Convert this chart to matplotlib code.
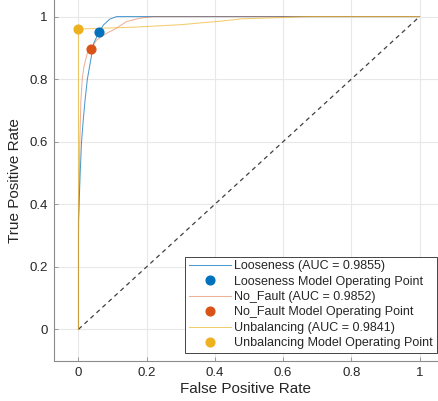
import matplotlib
matplotlib.use("Agg")
import matplotlib.pyplot as plt

plt.rcParams['font.family'] = ['Liberation Sans', 'DejaVu Sans']

# ROC curves
loose_fpr = [0, 0, 0.002, 0.005, 0.009, 0.014, 0.019, 0.026, 0.036, 0.045, 0.06, 0.073, 0.092, 0.112, 1.0]
loose_tpr = [0, 0.35, 0.41, 0.50, 0.60, 0.67, 0.73, 0.80, 0.862, 0.916, 0.95, 0.973, 0.992, 1.0, 1.0]

nofault_fpr = [0, 0, 0.002, 0.004, 0.007, 0.011, 0.016, 0.026, 0.036, 0.053, 0.083, 0.107, 0.141, 0.18, 0.22, 1.0]
nofault_tpr = [0, 0.30, 0.45, 0.60, 0.73, 0.80, 0.84, 0.883, 0.896, 0.925, 0.947, 0.96, 0.984, 0.995, 1.0, 1.0]

unbal_fpr = [0, 0, 0.05, 0.16, 0.30, 0.36, 0.415, 0.48, 0.60, 0.67, 1.0]
unbal_tpr = [0, 0.96, 0.962, 0.966, 0.974, 0.98, 0.985, 0.993, 0.997, 1.0, 1.0]

# operating points
op_fpr = [0.06, 0.036, 0.0]
op_tpr = [0.95, 0.896, 0.96]

labels = ['Looseness (AUC = 0.9855)', 'Looseness Model Operating Point',
          'No_Fault (AUC = 0.9852)', 'No_Fault Model Operating Point',
          'Unbalancing (AUC = 0.9841)', 'Unbalancing Model Operating Point']

ticks = [0, 0.2, 0.4, 0.6, 0.8, 1]
tick_labels = ['0', '0.2', '0.4', '0.6', '0.8', '1']

colors = ['#0072BD', '#D95319', '#EDB120']

fig = plt.figure(figsize=(4.38, 4.01), dpi=100)
ax = fig.add_axes([54 / 438, 40 / 401, 384 / 438, 361 / 401])

curves = [(loose_fpr, loose_tpr), (nofault_fpr, nofault_tpr), (unbal_fpr, unbal_tpr)]
alphas = [0.7, 0.45, 0.65]
handles = []
for i, (fx, ty) in enumerate(curves):
    ln, = ax.plot(fx, ty, color=colors[i], lw=0.75, alpha=alphas[i], zorder=3)
    mk, = ax.plot([op_fpr[i]], [op_tpr[i]], 'o', color=colors[i], ms=6.3,
                  linestyle='none', zorder=5)
    handles += [ln, mk]

ax.plot([0, 1], [0, 1], linestyle=(0, (3.5, 3)), color='#404040', lw=0.9, zorder=2)

ax.set_xlim(-0.0718, 1.054)
ax.set_ylim(-0.1014, 1.053)
ax.set_xticks(ticks)
ax.set_xticklabels(tick_labels)
ax.set_yticks(ticks)
ax.set_yticklabels(tick_labels)
ax.grid(True, color='#e8e8e8', lw=0.8, zorder=0)
ax.set_axisbelow(True)
for s in ['top', 'right']:
    ax.spines[s].set_visible(False)
for s in ['left', 'bottom']:
    ax.spines[s].set_color('#8c8c8c')
    ax.spines[s].set_linewidth(0.8)
ax.tick_params(direction='in', length=3, width=0.6, color='#8c8c8c',
               labelsize=9.5, labelcolor='#262626', pad=4.5)

ax.set_xlabel('False Positive Rate', fontsize=11, color='#262626', labelpad=2)
ax.set_ylabel('True Positive Rate', fontsize=11, color='#262626', labelpad=5)

leg = ax.legend(handles, labels, loc='lower right',
                bbox_to_anchor=(437 / 438, 48 / 401), bbox_transform=fig.transFigure,
                borderaxespad=0, fontsize=9, frameon=True, fancybox=False,
                edgecolor='#262626', framealpha=1, handlelength=3.4,
                handletextpad=0.25, labelspacing=0.27, borderpad=0.3)
leg.get_frame().set_linewidth(0.6)
for t in leg.get_texts():
    t.set_color('#262626')

fig.savefig('out.png', dpi=100)
